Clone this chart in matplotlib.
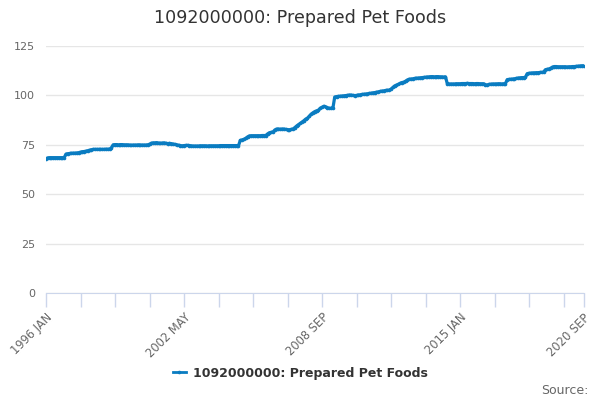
import numpy as np
import matplotlib
matplotlib.use("Agg")
import matplotlib.pyplot as plt

# --- DATOS --- (indice mensual, ene 1996 .. sep 2020)
y1996 = [68.0, 68.4, 68.5, 68.5, 68.5, 68.5, 68.5, 68.5, 68.5, 68.5, 68.5, 70.3]
y1997 = [70.5, 70.6, 70.7, 70.8, 70.8, 70.9, 71.0, 71.3, 71.5, 71.6, 71.8, 72.0]
y1998 = [72.3, 72.5, 72.7, 72.7, 72.7, 72.7, 72.7, 72.7, 72.7, 72.8, 72.8, 72.8]
y1999 = [73.5, 75.0, 75.1, 75.1, 75.0, 75.1, 75.1, 75.0, 75.0, 75.0, 74.9, 74.8]
y2000 = [74.9, 74.9, 74.9, 75.0, 74.9, 74.9, 74.9, 74.9, 75.0, 75.3, 75.8, 76.0]
y2001 = [76.0, 76.1, 75.9, 75.8, 75.9, 76.0, 75.8, 75.6, 75.7, 75.6, 75.4, 75.2]
y2002 = [75.0, 74.8, 74.6, 74.5, 74.6, 74.7, 74.7, 74.6, 74.5, 74.4, 74.4, 74.4]
y2003 = [74.4, 74.5, 74.5, 74.5, 74.5, 74.4, 74.5, 74.5, 74.5, 74.5, 74.5, 74.5]
y2004 = [74.6, 74.6, 74.6, 74.6, 74.6, 74.6, 74.6, 74.6, 74.6, 74.6, 74.6, 77.2]
y2005 = [77.5, 77.8, 78.3, 79.0, 79.5, 79.6, 79.6, 79.6, 79.6, 79.6, 79.6, 79.7]
y2006 = [79.7, 79.7, 80.5, 81.1, 81.3, 81.5, 82.5, 83.0, 83.0, 82.9, 83.0, 83.0]
y2007 = [82.8, 82.7, 82.6, 82.8, 83.0, 83.7, 84.5, 85.2, 85.8, 86.5, 87.2, 88.0]
y2008 = [88.5, 89.5, 90.5, 91.2, 91.8, 92.2, 92.5, 93.5, 94.0, 94.5, 94.2, 93.8]
y2009 = [93.5, 93.5, 93.6, 99.2, 99.4, 99.5, 99.6, 99.7, 99.8, 99.9, 100.0, 100.2]
y2010 = [100.2, 100.0, 99.9, 100.0, 100.2, 100.3, 100.5, 100.6, 100.7, 100.8, 101.0, 101.1]
y2011 = [101.3, 101.4, 101.6, 101.8, 102.0, 102.2, 102.3, 102.5, 102.6, 102.7, 103.2, 104.0]
y2012 = [104.8, 105.2, 105.6, 106.1, 106.5, 106.7, 107.2, 107.8, 108.2, 108.3, 108.4, 108.6]
y2013 = [108.7, 108.8, 108.9, 109.0, 109.1, 109.2, 109.3, 109.4, 109.5, 109.5, 109.4, 109.5]
y2014 = [109.5, 109.4, 109.4, 109.3, 109.4, 105.9, 105.8, 105.8, 105.8, 105.8, 105.9, 105.9]
y2015 = [105.9, 106.0, 106.0, 106.0, 106.1, 106.0, 106.0, 106.0, 105.9, 106.0, 106.0, 105.9]
y2016 = [105.9, 105.9, 105.4, 105.3, 105.6, 105.7, 105.8, 105.8, 105.8, 105.9, 105.9, 105.8]
y2017 = [105.9, 106.0, 108.0, 108.1, 108.2, 108.3, 108.4, 108.6, 108.8, 108.9, 109.0, 109.0]
y2018 = [109.2, 111.0, 111.2, 111.3, 111.4, 111.4, 111.5, 111.5, 111.6, 111.7, 111.7, 113.0]
y2019 = [113.2, 113.4, 113.8, 114.4, 114.6, 114.6, 114.5, 114.5, 114.5, 114.5, 114.5, 114.4]
y2020 = [114.5, 114.5, 114.6, 114.6, 114.7, 114.8, 114.9, 115.0, 115.0]

valores = (y1996 + y1997 + y1998 + y1999 + y2000 + y2001 + y2002 + y2003
           + y2004 + y2005 + y2006 + y2007 + y2008 + y2009 + y2010 + y2011
           + y2012 + y2013 + y2014 + y2015 + y2016 + y2017 + y2018 + y2019 + y2020)

etiquetas_x = ['1996 JAN', '2002 MAY', '2008 SEP', '2015 JAN', '2020 SEP']
pos_etiquetas = [0, 76, 152, 228, 296]
yticks = [0, 25, 50, 75, 100, 125]
serie = '1092000000: Prepared Pet Foods'

# --- GRAFICA ---
plt.rcParams['font.family'] = ['DejaVu Sans']
azul = '#0a7cc1'
gris_txt = '#666666'

fig = plt.figure(figsize=(6, 4), dpi=100)
ax = fig.add_axes([46/600, 107/400, 537.5/600, 247/400])

meses = np.arange(len(valores))
ax.plot(meses, valores, color=azul, linewidth=2.3, marker='o', markersize=2.6,
        markeredgewidth=0, label=serie, zorder=3)

ax.set_xlim(0, len(valores) - 1)
ax.set_ylim(0, 125)
ax.set_yticks(yticks)
ax.set_yticklabels([str(v) for v in yticks])
ax.grid(axis='y', color='#e6e6e6', linewidth=1)
ax.set_axisbelow(True)

ax.set_xticks(pos_etiquetas)
ax.set_xticklabels(etiquetas_x, rotation=45, ha='right', rotation_mode='anchor')
ax.set_xticks(np.arange(0, 296, 19), minor=True)
ax.tick_params(axis='x', which='both', length=10, color='#ccd6eb', width=1,
               labelsize=8.3, labelcolor=gris_txt, pad=3)
ax.tick_params(axis='y', length=0, labelsize=8, labelcolor=gris_txt, pad=8)

for lado in ['top', 'right', 'left']:
    ax.spines[lado].set_visible(False)
ax.spines['bottom'].set_color('#ccd6eb')

fig.text(0.5, 1 - 18/400, serie, ha='center', va='center', fontsize=12.6, color='#333333')

leg = fig.legend(loc='center', bbox_to_anchor=(0.5, 1 - 373/400), frameon=False,
                 prop={'size': 9, 'weight': 'bold'}, handlelength=1.1, handletextpad=0.5)
for t in leg.get_texts():
    t.set_color('#333333')
for h in leg.get_lines():
    h.set_linewidth(2)

fig.text(589/600, 1 - 390/400, 'Source:', ha='right', va='center', fontsize=9, color=gris_txt)

fig.savefig('out.png', dpi=100)
